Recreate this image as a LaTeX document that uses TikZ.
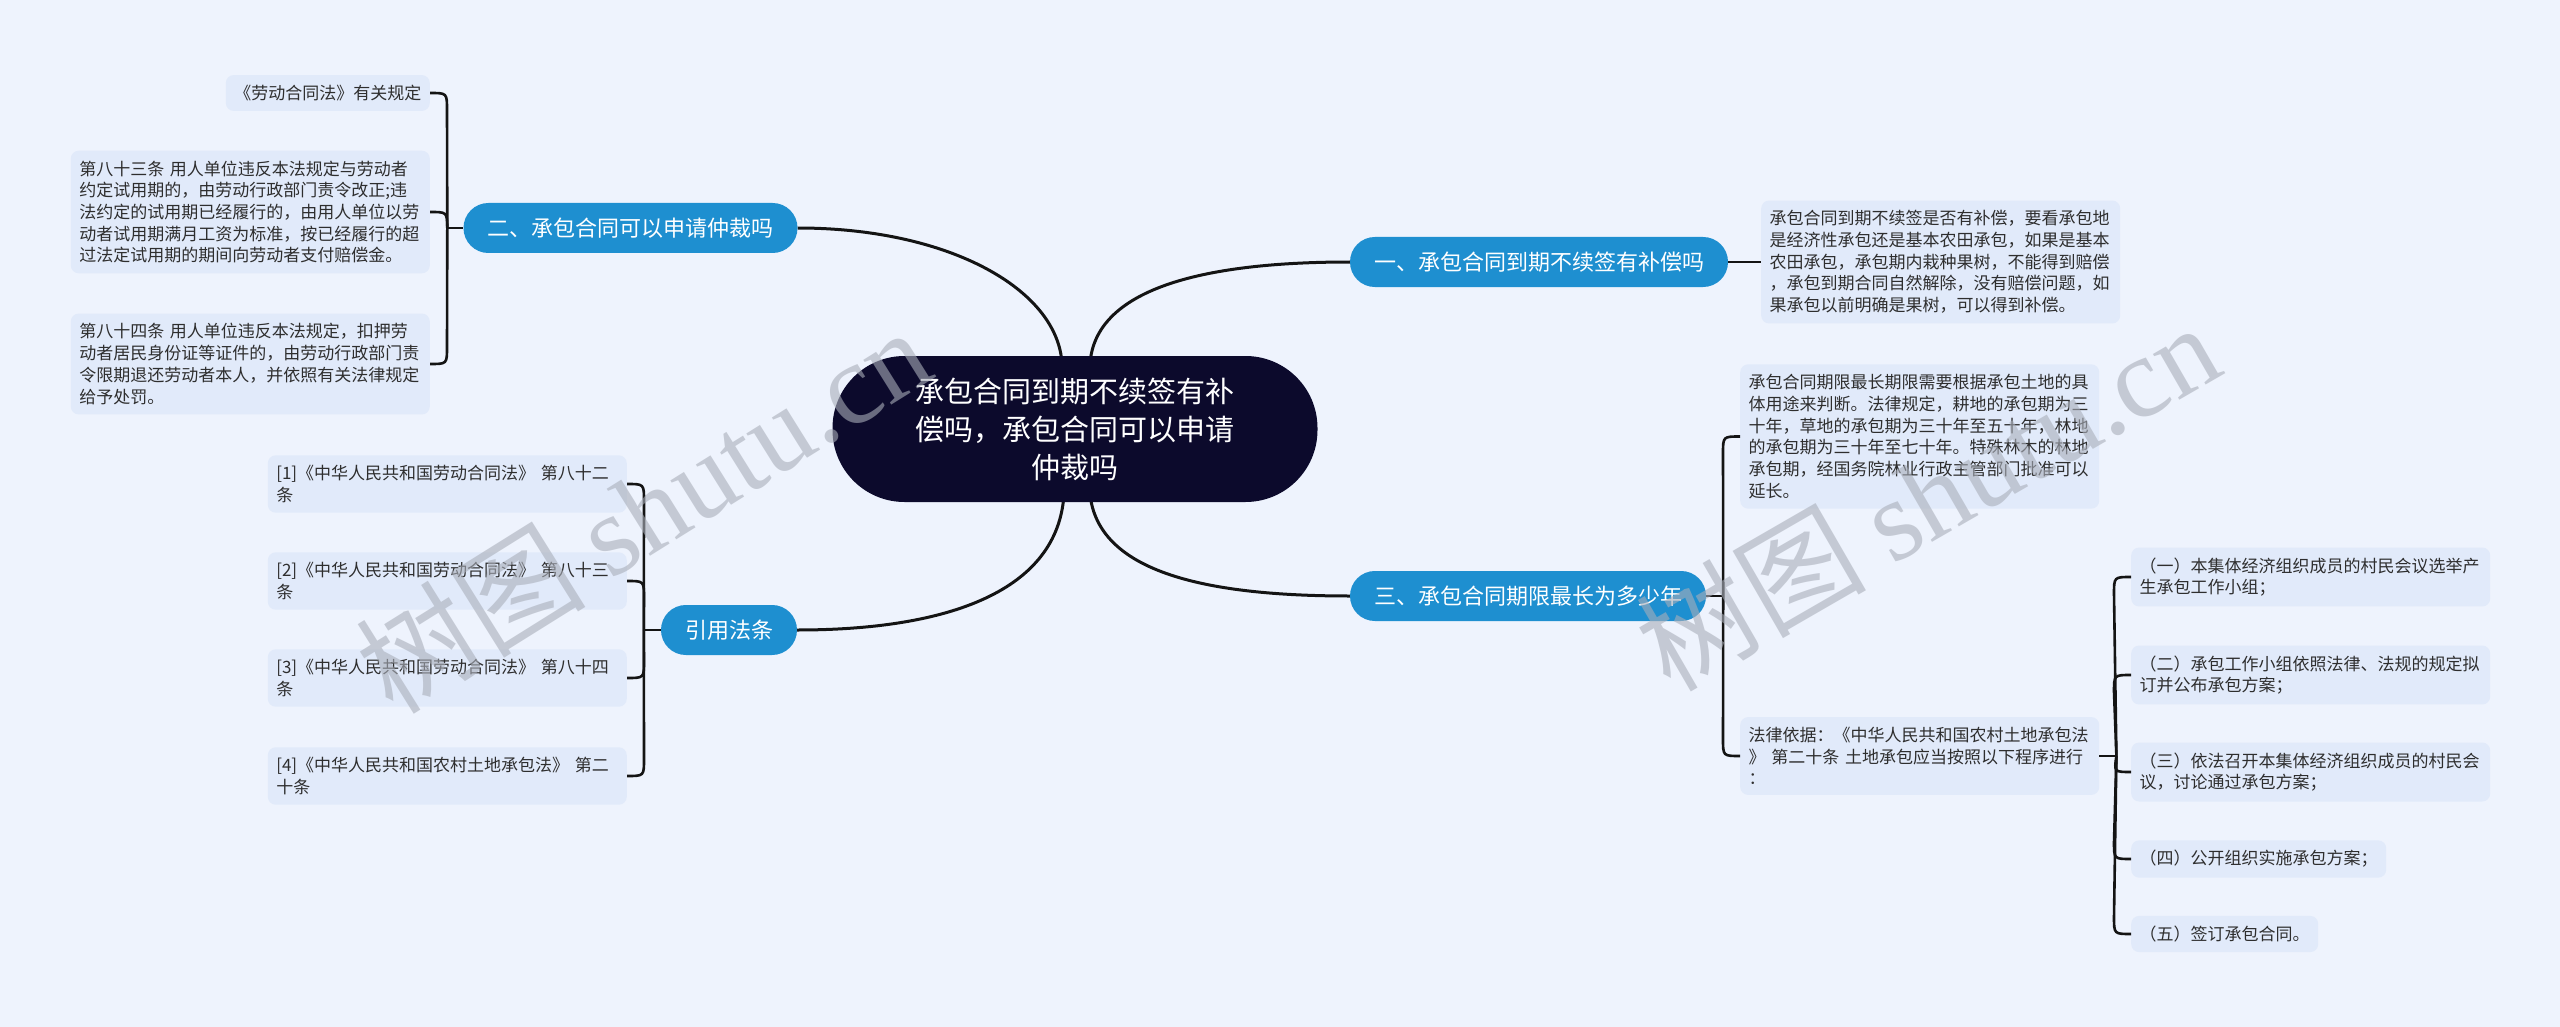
\documentclass[tikz,border=0pt]{standalone}
\usepackage{fontspec}
\setmainfont{Noto Sans CJK SC}
\newfontfamily\wmlatin{Liberation Serif}
\usetikzlibrary{calc,backgrounds}
\definecolor{bgc}{HTML}{EEF3FD}
\definecolor{boxfill}{HTML}{E1EAFA}
\definecolor{pillc}{HTML}{1E8FD0}
\definecolor{navy}{HTML}{0C0A2C}
\definecolor{txt}{HTML}{2E2E2E}
\definecolor{wmc}{HTML}{A9AEB9}
\begin{document}
\begin{tikzpicture}[x=1pt,y=-1pt,
  conn/.style={line width=2.6pt, draw=black!92},
  mainconn/.style={line width=3pt, draw=black!92},
  tbox/.style={fill=boxfill, rounded corners=8pt, text=txt,
    font=\fontsize{17}{21.7}\selectfont, align=left, inner xsep=8.5pt, inner ysep=10pt},
  wbox/.style={tbox, text width=342pt},
  pillbox/.style={fill=pillc, text=white, rounded corners=24.9pt, minimum height=50pt,
    inner xsep=24pt, inner ysep=0pt, font=\fontsize{22}{26}\selectfont},
  rootbox/.style={fill=navy, text=white, rounded corners=72pt, minimum width=485pt,
    minimum height=146pt, align=center, font=\fontsize{29}{38}\selectfont},
  wmark/.style={text=wmc, opacity=0.6, font=\fontsize{115}{115}\selectfont, inner sep=0pt}
]
\useasboundingbox (0,0) rectangle (2560,1027);

% central node
\node[rootbox] (c) at (1075,429) {承包合同到期不续签有补\\偿吗，承包合同可以申请\\仲裁吗};

% branch pills
\node[pillbox] (n2) at (630.5,228) {二、承包合同可以申请仲裁吗};
\node[pillbox] (n1) at (1539,262) {一、承包合同到期不续签有补偿吗};
\node[pillbox] (n3) at (1528,596) {三、承包合同期限最长为多少年};
\node[pillbox] (n4) at (729,630) {引用法条};

% branch 一
\node[wbox, anchor=west] (t1) at (1761,262) {承包合同到期不续签是否有补偿，要看承包地\\是经济性承包还是基本农田承包，如果是基本\\农田承包，承包期内栽种果树，不能得到赔偿\\，承包到期合同自然解除，没有赔偿问题，如\\果承包以前明确是果树，可以得到补偿。};

% branch 二
\node[tbox, anchor=east] (l1) at (430,93) {《劳动合同法》有关规定};
\node[wbox, anchor=east] (l2) at (430,212) {第八十三条 用人单位违反本法规定与劳动者\\约定试用期的，由劳动行政部门责令改正;违\\法约定的试用期已经履行的，由用人单位以劳\\动者试用期满月工资为标准，按已经履行的超\\过法定试用期的期间向劳动者支付赔偿金。};
\node[wbox, anchor=east] (l3) at (430,364) {第八十四条 用人单位违反本法规定，扣押劳\\动者居民身份证等证件的，由劳动行政部门责\\令限期退还劳动者本人，并依照有关法律规定\\给予处罚。};

% 引用法条
\node[wbox, anchor=east] (r1) at (627,484) {[1]《中华人民共和国劳动合同法》 第八十二\\条};
\node[wbox, anchor=east] (r2) at (627,581) {[2]《中华人民共和国劳动合同法》 第八十三\\条};
\node[wbox, anchor=east] (r3) at (627,678) {[3]《中华人民共和国劳动合同法》 第八十四\\条};
\node[wbox, anchor=east] (r4) at (627,776) {[4]《中华人民共和国农村土地承包法》 第二\\十条};

% branch 三
\node[wbox, anchor=west] (t3a) at (1740,436.5) {承包合同期限最长期限需要根据承包土地的具\\体用途来判断。法律规定，耕地的承包期为三\\十年，草地的承包期为三十年至五十年，林地\\的承包期为三十年至七十年。特殊林木的林地\\承包期，经国务院林业行政主管部门批准可以\\延长。};
\node[wbox, anchor=west] (t3b) at (1740,756) {法律依据：《中华人民共和国农村土地承包法\\》 第二十条 土地承包应当按照以下程序进行\\：};

\node[wbox, anchor=west] (s1) at (2131,577) {（一）本集体经济组织成员的村民会议选举产\\生承包工作小组；};
\node[wbox, anchor=west] (s2) at (2131,675) {（二）承包工作小组依照法律、法规的规定拟\\订并公布承包方案；};
\node[wbox, anchor=west] (s3) at (2131,772) {（三）依法召开本集体经济组织成员的村民会\\议，讨论通过承包方案；};
\node[tbox, anchor=west] (s4) at (2131,859) {（四）公开组织实施承包方案；};
\node[tbox, anchor=west] (s5) at (2131,934) {（五）签订承包合同。};

% junctions
\coordinate (jL) at ($(n2.west)+(-16,0)$);
\coordinate (jR) at ($(n4.west)+(-17,0)$);
\coordinate (j3) at ($(n3.east)+(17,0)$);
\coordinate (jc) at ($(t3b.east)+(17,0)$);

\begin{pgfonlayer}{background}
\fill[bgc] (0,0) rectangle (2560,1027);
% main curves
\draw[mainconn] ($(c.north)+(-13,8)$) .. controls ($(c.north)+(-17,-66)$) and ($(n2.east)+(152,0)$) .. (n2.east);
\draw[mainconn] ($(c.north)+(15,8)$) .. controls ($(c.north)+(20,-66)$) and ($(n1.west)+(-150,0)$) .. (n1.west);
\draw[mainconn] ($(c.south)+(15,-8)$) .. controls ($(c.south)+(23,68)$) and ($(n3.west)+(-150,0)$) .. (n3.west);
\draw[mainconn] ($(c.south)+(-11,-8)$) .. controls ($(c.south)+(-17,88)$) and ($(n4.east)+(153,0)$) .. (n4.east);
\end{pgfonlayer}

% 一 connector
\draw[conn] (n1.east) -- (t1.west);

% 二 bracket
\draw[conn] (l1.east) .. controls ($(l1.east)+(17,0)$) .. ($(l1.east)+(17,17)$) -- (jL);
\draw[conn] (l2.east) .. controls ($(l2.east)+(17,0)$) .. (jL);
\draw[conn] (l3.east) .. controls ($(l3.east)+(17,0)$) .. ($(l3.east)+(17,-17)$) -- (jL);
\draw[conn] (jL) -- (n2.west);

% 引用法条 bracket
\draw[conn] (r1.east) .. controls ($(r1.east)+(17,0)$) .. ($(r1.east)+(17,17)$) -- (jR);
\draw[conn] (r2.east) .. controls ($(r2.east)+(17,0)$) .. ($(r2.east)+(17,17)$) -- (jR);
\draw[conn] (r3.east) .. controls ($(r3.east)+(17,0)$) .. ($(r3.east)+(17,-17)$) -- (jR);
\draw[conn] (r4.east) .. controls ($(r4.east)+(17,0)$) .. ($(r4.east)+(17,-17)$) -- (jR);
\draw[conn] (jR) -- (n4.west);

% 三 bracket
\draw[conn] (t3a.west) .. controls ($(t3a.west)+(-17,0)$) .. ($(t3a.west)+(-17,17)$) -- (j3);
\draw[conn] (t3b.west) .. controls ($(t3b.west)+(-17,0)$) .. ($(t3b.west)+(-17,-17)$) -- (j3);
\draw[conn] (n3.east) -- (j3);

% sub bracket
\draw[conn] (s1.west) .. controls ($(s1.west)+(-17,0)$) .. ($(s1.west)+(-17,17)$) -- (jc);
\draw[conn] (s2.west) .. controls ($(s2.west)+(-17,0)$) .. ($(s2.west)+(-17,17)$) -- (jc);
\draw[conn] (s3.west) .. controls ($(s3.west)+(-17,0)$) .. (jc);
\draw[conn] (s4.west) .. controls ($(s4.west)+(-17,0)$) .. ($(s4.west)+(-17,-17)$) -- (jc);
\draw[conn] (s5.west) .. controls ($(s5.west)+(-17,0)$) .. ($(s5.west)+(-17,-17)$) -- (jc);
\draw[conn] (t3b.east) -- (jc);

% watermarks
\node[wmark, rotate=32] (wm1) at (643,509) {树图 {\wmlatin shutu.cn}};
\node[wmark, rotate=30] (wm2) at (1927,495) {树图 {\wmlatin shutu.cn}};
\end{tikzpicture}
\end{document}
